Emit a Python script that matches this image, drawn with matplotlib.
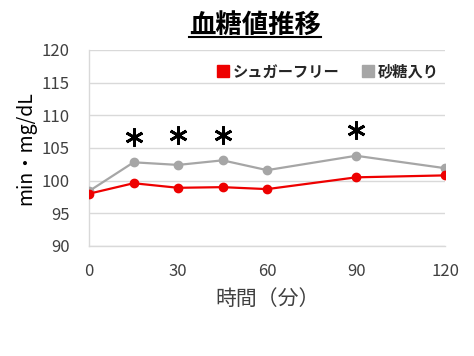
import matplotlib
matplotlib.use("Agg")
import matplotlib.pyplot as plt
from matplotlib.lines import Line2D

plt.rcParams['font.family'] = ['Noto Sans CJK JP', 'DejaVu Sans']

# data
minutes = [0, 15, 30, 45, 60, 90, 120]
sugar_free = [98.0, 99.6, 98.9, 99.0, 98.7, 100.5, 100.8]
with_sugar = [98.4, 102.8, 102.4, 103.1, 101.6, 103.8, 101.9]
star_x = [15, 30, 45, 90]
star_y = [106.6, 107.0, 107.0, 107.7]
x_ticks = [0, 30, 60, 90, 120]
y_ticks = [90, 95, 100, 105, 110, 115, 120]

fig = plt.figure(figsize=(4.74, 3.56), dpi=100)
ax = fig.add_axes([0.188, 0.309, 0.751, 0.551])

grid_col = '#d9d9d9'
text_col = '#404040'

ax.plot(minutes, with_sugar, color='#a6a6a6', lw=1.6, marker='o', ms=6, label='砂糖入り', zorder=3)
ax.plot(minutes, sugar_free, color='#ee0000', lw=1.6, marker='o', ms=6, label='シュガーフリー', zorder=4)

# significance asterisks
ax.plot(star_x, star_y, ls='', marker=(6, 2, 0), ms=13, mew=2.0, color='black')

ax.set_xlim(0, 120)
ax.set_ylim(90, 120)
ax.set_xticks(x_ticks)
ax.set_yticks(y_ticks)
ax.tick_params(length=0, labelsize=12, colors=text_col)
ax.tick_params(axis='y', pad=14)
ax.tick_params(axis='x', pad=12)
ax.yaxis.grid(True, color=grid_col, lw=1)
ax.set_axisbelow(True)
for s in ['top', 'right']:
    ax.spines[s].set_visible(False)
for s in ['left', 'bottom']:
    ax.spines[s].set_color(grid_col)
    ax.spines[s].set_linewidth(1)

ax.set_xlabel('時間（分）', fontsize=15, color=text_col, labelpad=6)
ax.set_ylabel('min・mg/dL', fontsize=14, color='black', labelpad=4)

handles = [Line2D([], [], ls='', marker='s', ms=9, color='#ee0000'),
           Line2D([], [], ls='', marker='s', ms=9, color='#a6a6a6')]
ax.legend(handles, ['シュガーフリー', '砂糖入り'], loc='upper right', ncol=2,
          frameon=False, handlelength=0.6, handletextpad=0.3, columnspacing=1.6,
          prop={'size': 11, 'weight': 'bold'}, bbox_to_anchor=(1.02, 1.0),
          labelcolor='#262626')

title = fig.text(0.538, 0.93, '血糖値推移', ha='center', va='center',
                 fontsize=19, fontweight='bold', color='black')
fig.canvas.draw()
bb = title.get_window_extent().transformed(fig.transFigure.inverted())
fig.add_artist(Line2D([bb.x0, bb.x1], [bb.y0 + 0.004, bb.y0 + 0.004],
                      transform=fig.transFigure, color='black', lw=1.5))

fig.savefig('out.png', dpi=100)
